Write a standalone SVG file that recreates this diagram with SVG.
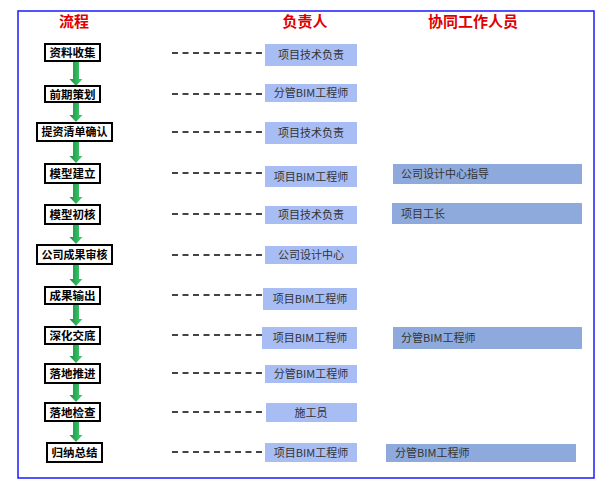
<svg xmlns="http://www.w3.org/2000/svg" width="610" height="501" viewBox="0 0 610 501">
<defs>
<linearGradient id="g" x1="0" y1="0" x2="1" y2="0">
<stop offset="0" stop-color="#1f8f45"/>
<stop offset="1" stop-color="#3fd16f"/>
</linearGradient>
</defs>
<style>
.hd{font-family:"Noto Sans CJK SC","Liberation Sans",sans-serif;font-size:15px;font-weight:bold;fill:#e00000;text-anchor:middle}
.fb rect{fill:#fff;stroke:#000;stroke-width:2}
.fb text{font-family:"Noto Sans CJK SC","Liberation Sans",sans-serif;font-size:11.5px;font-weight:bold;fill:#000;text-anchor:middle}
.fb text.w{font-size:11px}
.rb rect{fill:#a9bdf5}
.rb text{font-family:"Noto Sans CJK SC","Liberation Sans",sans-serif;font-size:11px;fill:#333;text-anchor:middle}
.cb rect{fill:#8eaadc}
.cb text{font-family:"Noto Sans CJK SC","Liberation Sans",sans-serif;font-size:11px;fill:#333}
.dash{stroke:#444;stroke-width:2;stroke-dasharray:6 4.5;fill:none}
.ar{fill:url(#g)}
</style>
<rect x="18" y="11" width="576" height="467" fill="#fff" stroke="#1a1aff" stroke-width="1.5"/>
<g id="headers">
<text class="hd" x="74" y="27">流程</text>
<text class="hd" x="305" y="27">负责人</text>
<text class="hd" x="473" y="27">协同工作人员</text>
</g>
<g id="connectors">
<line class="dash" x1="172" y1="53" x2="262" y2="53"/>
<line class="dash" x1="172" y1="94" x2="262" y2="94"/>
<line class="dash" x1="172" y1="132" x2="262" y2="132"/>
<line class="dash" x1="172" y1="173" x2="262" y2="173"/>
<line class="dash" x1="172" y1="214" x2="262" y2="214"/>
<line class="dash" x1="172" y1="255" x2="262" y2="255"/>
<line class="dash" x1="172" y1="295" x2="262" y2="295"/>
<line class="dash" x1="172" y1="335" x2="262" y2="335"/>
<line class="dash" x1="172" y1="373" x2="262" y2="373"/>
<line class="dash" x1="172" y1="412" x2="262" y2="412"/>
<line class="dash" x1="172" y1="452" x2="262" y2="452"/>
<path class="ar" d="M73,62 H79 V79 H82.5 L76,86 L69.5,79 H73 Z"/>
<path class="ar" d="M73,103 H79 V115 H82.5 L76,122 L69.5,115 H73 Z"/>
<path class="ar" d="M73,142 H79 V156 H82.5 L76,163 L69.5,156 H73 Z"/>
<path class="ar" d="M73,184 H79 V197 H82.5 L76,204 L69.5,197 H73 Z"/>
<path class="ar" d="M73,225 H79 V237 H82.5 L76,244 L69.5,237 H73 Z"/>
<path class="ar" d="M73,265 H79 V279 H82.5 L76,286 L69.5,279 H73 Z"/>
<path class="ar" d="M73,305 H79 V319 H82.5 L76,326 L69.5,319 H73 Z"/>
<path class="ar" d="M73,345 H79 V356 H82.5 L76,363 L69.5,356 H73 Z"/>
<path class="ar" d="M73,384 H79 V395 H82.5 L76,402 L69.5,395 H73 Z"/>
<path class="ar" d="M73,422 H79 V435 H82.5 L76,442 L69.5,435 H73 Z"/>
</g>
<g id="n1" class="fb"><rect x="45" y="44" width="55" height="17"/><text x="72.5" y="57">资料收集</text></g>
<g id="n2" class="fb"><rect x="45" y="86" width="55" height="16"/><text x="72.5" y="98.5">前期策划</text></g>
<g id="n3" class="fb"><rect x="37" y="123" width="75" height="18"/><text class="w" x="74.5" y="136">提资清单确认</text></g>
<g id="n4" class="fb"><rect x="45" y="164" width="55" height="19"/><text x="72.5" y="178">模型建立</text></g>
<g id="n5" class="fb"><rect x="45" y="205" width="55" height="19"/><text x="72.5" y="219">模型初核</text></g>
<g id="n6" class="fb"><rect x="37" y="245" width="75" height="19"/><text class="w" x="74.5" y="258.5">公司成果审核</text></g>
<g id="n7" class="fb"><rect x="45" y="287" width="55" height="17"/><text x="72.5" y="300">成果输出</text></g>
<g id="n8" class="fb"><rect x="45" y="327" width="55" height="17"/><text x="72.5" y="340">深化交底</text></g>
<g id="n9" class="fb"><rect x="45" y="364" width="55" height="19"/><text x="72.5" y="378">落地推进</text></g>
<g id="n10" class="fb"><rect x="45" y="403" width="55" height="18"/><text x="72.5" y="416.5">落地检查</text></g>
<g id="n11" class="fb"><rect x="47" y="443" width="55" height="19"/><text x="74.5" y="457">归纳总结</text></g>
<g id="r1" class="rb"><rect x="265" y="44" width="92" height="22"/><text x="311" y="59">项目技术负责</text></g>
<g id="r2" class="rb"><rect x="265" y="84" width="92" height="18"/><text x="311" y="97">分管BIM工程师</text></g>
<g id="r3" class="rb"><rect x="265" y="122" width="92" height="22"/><text x="311" y="137">项目技术负责</text></g>
<g id="r4" class="rb"><rect x="265" y="166" width="92" height="21"/><text x="311" y="180.5">项目BIM工程师</text></g>
<g id="r5" class="rb"><rect x="265" y="206" width="92" height="18"/><text x="311" y="219">项目技术负责</text></g>
<g id="r6" class="rb"><rect x="265" y="246" width="92" height="18"/><text x="311" y="259">公司设计中心</text></g>
<g id="r7" class="rb"><rect x="263" y="288" width="94" height="22"/><text x="310" y="303">项目BIM工程师</text></g>
<g id="r8" class="rb"><rect x="262" y="327" width="95" height="22"/><text x="310" y="342">项目BIM工程师</text></g>
<g id="r9" class="rb"><rect x="265" y="365" width="92" height="18"/><text x="311" y="378">分管BIM工程师</text></g>
<g id="r10" class="rb"><rect x="266" y="403" width="91" height="19"/><text x="311" y="416.5">施工员</text></g>
<g id="r11" class="rb"><rect x="265" y="443" width="92" height="19"/><text x="311" y="456.5">项目BIM工程师</text></g>
<g id="c4" class="cb"><rect x="393" y="164" width="189" height="20"/><text x="401" y="178">公司设计中心指导</text></g>
<g id="c5" class="cb"><rect x="392" y="203" width="190" height="21"/><text x="401" y="217.5">项目工长</text></g>
<g id="c8" class="cb"><rect x="393" y="327" width="189" height="22"/><text x="401" y="342">分管BIM工程师</text></g>
<g id="c11" class="cb"><rect x="386" y="444" width="190" height="18"/><text x="395" y="457">分管BIM工程师</text></g>
</svg>
